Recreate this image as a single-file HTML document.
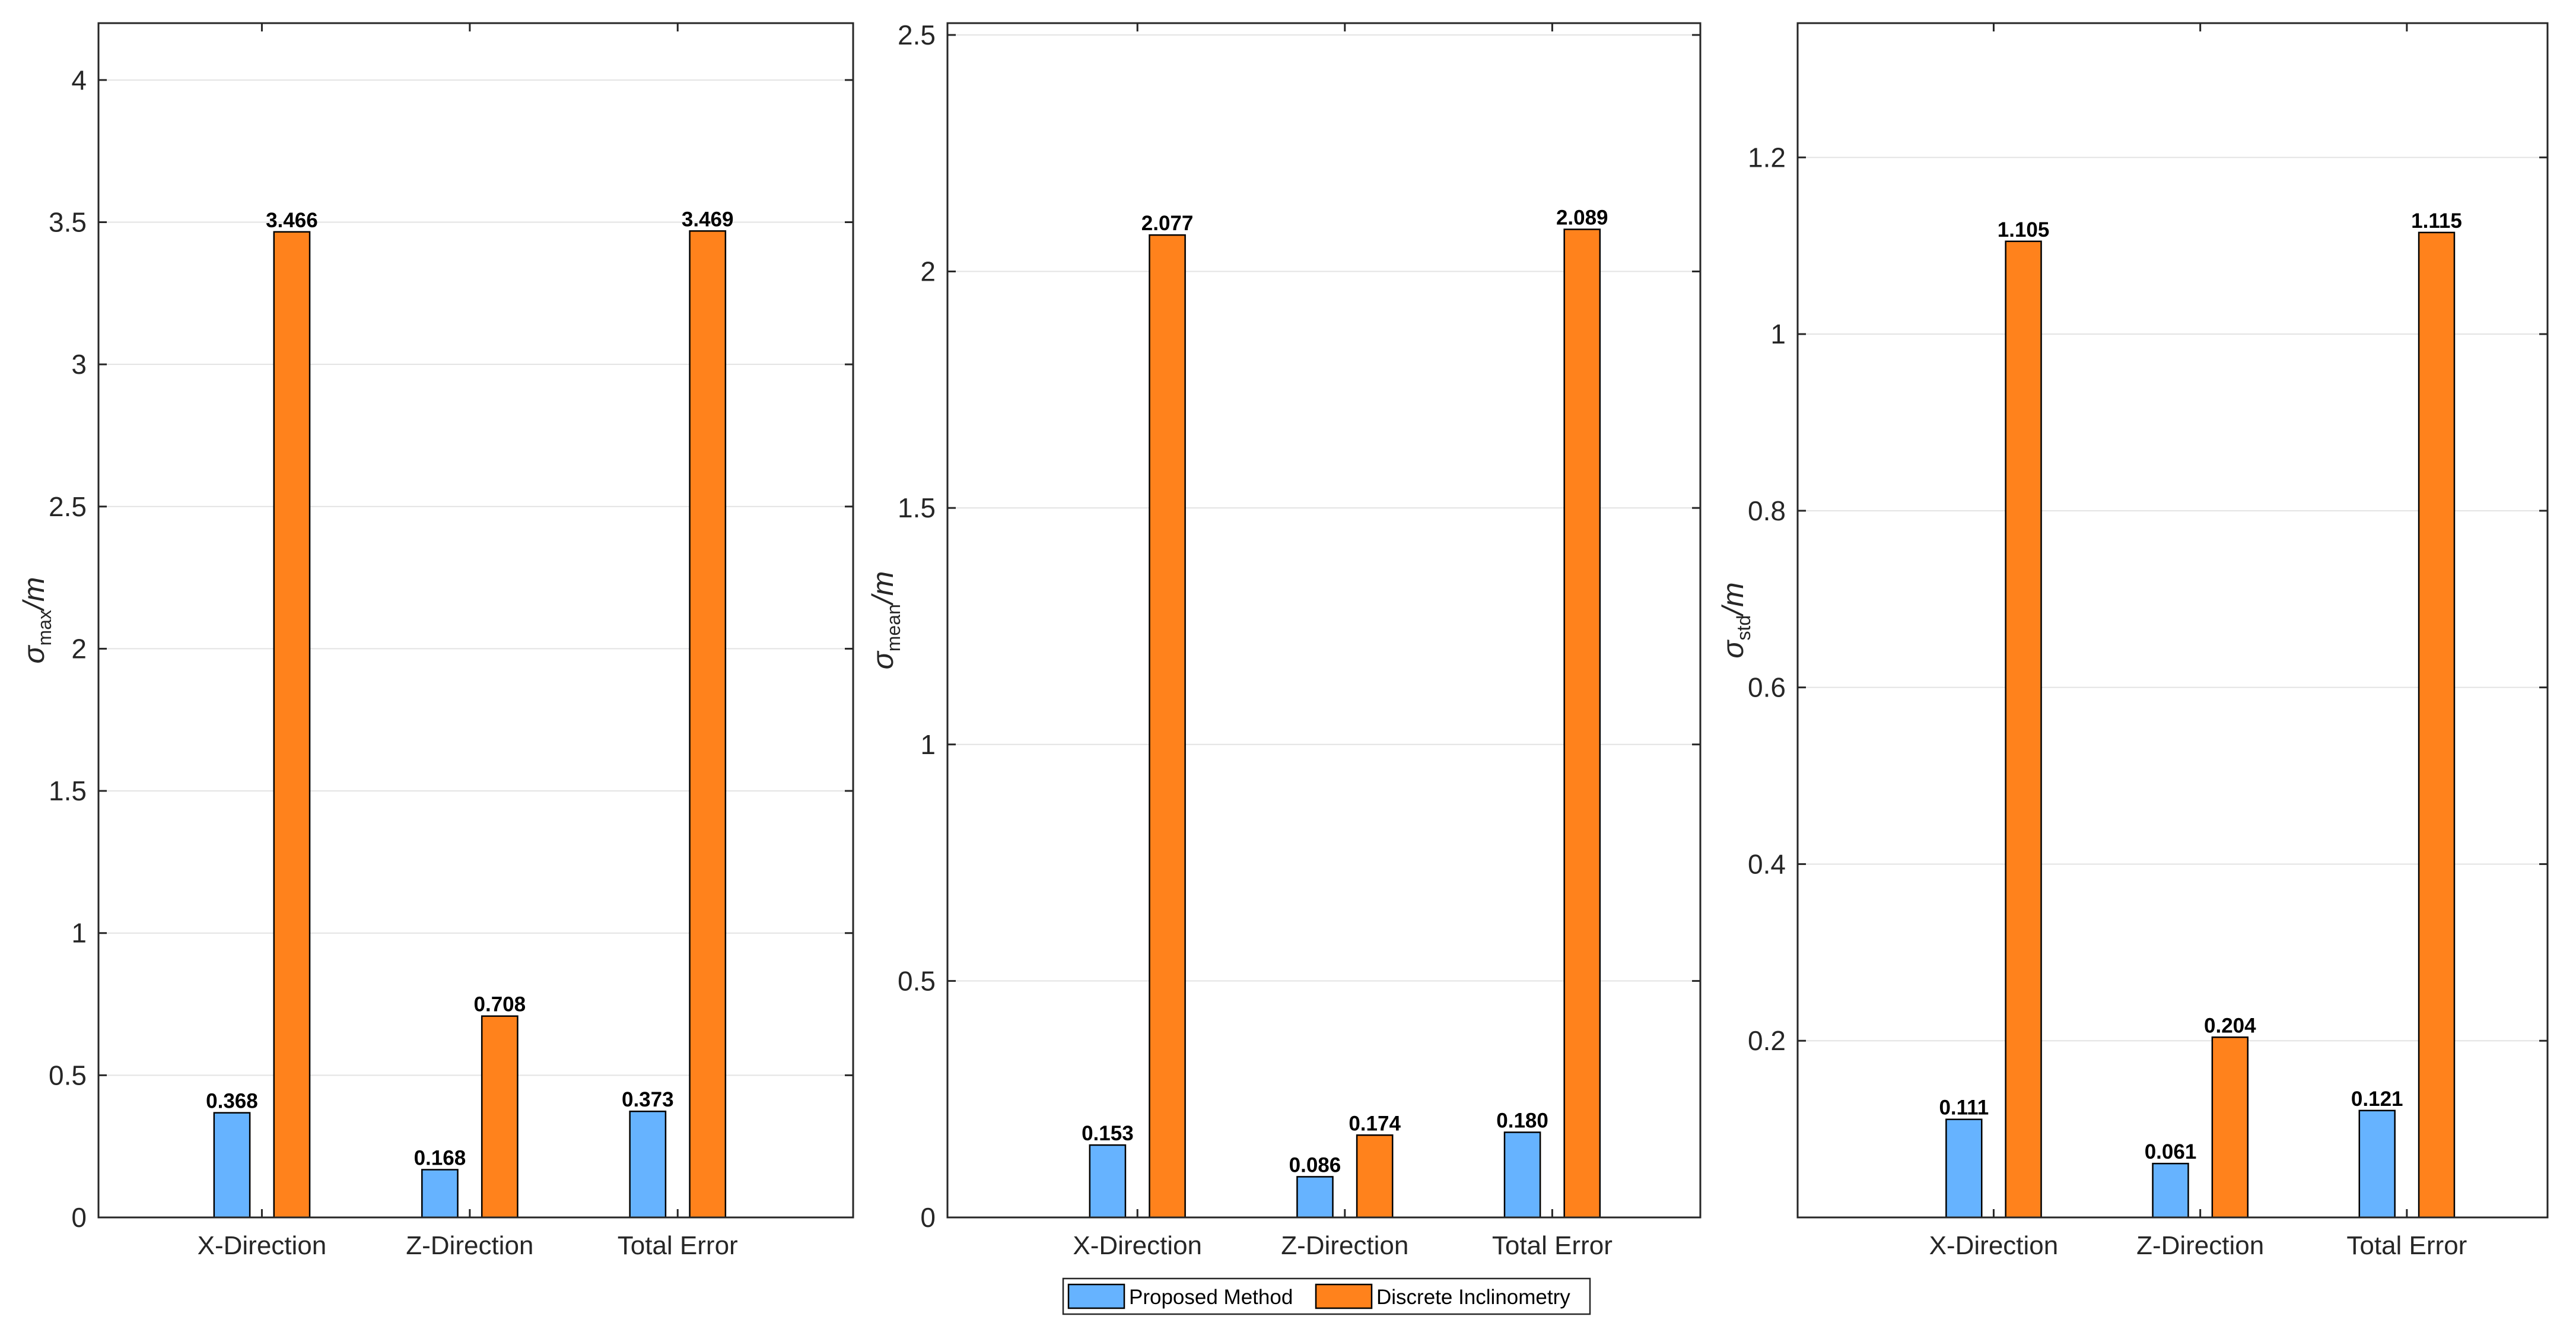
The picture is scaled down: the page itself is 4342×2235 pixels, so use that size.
<!DOCTYPE html>
<html><head><meta charset="utf-8"><style>
html,body{margin:0;padding:0;background:#fff;}
svg{display:block;}
text{font-family:"Liberation Sans",Arial,sans-serif;}
</style></head><body>
<svg id="chart" width="4342" height="2235" viewBox="0 0 4342 2235" xmlns="http://www.w3.org/2000/svg"></svg>
<script>
const categories = ["X-Direction","Z-Direction","Total Error"];
const seriesNames = ["Proposed Method","Discrete Inclinometry"];
const maxProposed = [0.368,0.168,0.373];
const maxDiscrete = [3.466,0.708,3.469];
const meanProposed = [0.153,0.086,0.180];
const meanDiscrete = [2.077,0.174,2.089];
const stdProposed = [0.111,0.061,0.121];
const stdDiscrete = [1.105,0.204,1.115];
const maxTicks = [0,0.5,1,1.5,2,2.5,3,3.5,4];
const meanTicks = [0,0.5,1,1.5,2,2.5];
const stdTicks = [0.2,0.4,0.6,0.8,1,1.2];
const colors = ["#66B3FF","#FF821C"];

const NS="http://www.w3.org/2000/svg";
const svg=document.getElementById('chart');
function mk(tag,attrs,parent){const e=document.createElementNS(NS,tag);for(const k in attrs)e.setAttribute(k,attrs[k]);(parent||svg).appendChild(e);return e;}

const panels=[
 {name:"max",L:166,R:1438,T:39,B:2052,ymax:4.2,xmin:0.214,xmax:3.844,ticks:maxTicks,p:maxProposed,d:maxDiscrete,sub:"max"},
 {name:"mean",L:1597,R:2866,T:39,B:2052,ymax:2.525,xmin:0.084,xmax:3.714,ticks:meanTicks,p:meanProposed,d:meanDiscrete,sub:"mean"},
 {name:"std",L:3030,R:4294,T:39,B:2052,ymax:1.352,xmin:0.051,xmax:3.681,ticks:stdTicks,p:stdProposed,d:stdDiscrete,sub:"std"}
];
const off=0.144,bw=0.172;

panels.forEach(P=>{
  const g=mk('g',{});
  
  
  const xs=v=>P.L+(v-P.xmin)/(P.xmax-P.xmin)*(P.R-P.L);
  const ys=v=>P.B-v/P.ymax*(P.B-P.T);
  P.ticks.forEach(t=>{
    const y=ys(t);
    if(t>0){const gl=mk('line',{x1:P.L,x2:P.R,y1:y,y2:y,stroke:'#e3e3e3','stroke-width':2},g);
      }
    mk('line',{x1:P.L,x2:P.L+14,y1:y,y2:y,stroke:'#262626','stroke-width':3},g);
    mk('line',{x1:P.R,x2:P.R-14,y1:y,y2:y,stroke:'#262626','stroke-width':3},g);
    const tl=mk('text',{x:P.L-20,y:y+16,'text-anchor':'end','font-size':46,fill:'#262626'},g);
    tl.textContent=String(t);
    
  });
  categories.forEach((c,i)=>{
    const cx=xs(i+1);
    [P.p[i],P.d[i]].forEach((v,s)=>{
      const bx=xs(i+1+(s?off:-off)-bw/2), bx2=xs(i+1+(s?off:-off)+bw/2);
      const r=mk('rect',{x:bx,y:ys(v),width:bx2-bx,height:P.B-ys(v),fill:colors[s],stroke:'#000','stroke-width':2.5},g);
      
      
      const vt=mk('text',{x:(bx+bx2)/2,y:ys(v)-8,'text-anchor':'middle','font-size':35,'font-weight':'bold',fill:'#000'},g);
      vt.textContent=v.toFixed(3);
      
    });
    mk('line',{x1:cx,x2:cx,y1:P.B,y2:P.B-14,stroke:'#262626','stroke-width':3},g);
    mk('line',{x1:cx,x2:cx,y1:P.T,y2:P.T+14,stroke:'#262626','stroke-width':3},g);
    const xl=mk('text',{x:cx,y:P.B+62,'text-anchor':'middle','font-size':44,fill:'#262626'},g);
    xl.textContent=c;
    
  });
  const box=mk('rect',{x:P.L,y:P.T,width:P.R-P.L,height:P.B-P.T,fill:'none',stroke:'#262626','stroke-width':3},g);
  
  const yl=mk('text',{transform:`translate(${P.L-92},${(P.T+P.B)/2}) rotate(-90)`,'text-anchor':'middle','font-size':50,fill:'#262626','font-family':'Liberation Serif, serif','font-style':'italic'},g);
  yl.innerHTML='σ<tspan font-size="32" font-style="normal" dy="12">'+P.sub+'</tspan><tspan dy="-12">/m</tspan>';
  
});

const lg=mk('g',{});


mk('rect',{x:1792,y:2155,width:888,height:60,fill:'#fff',stroke:'#262626','stroke-width':2.5},lg);
[[1801,seriesNames[0],colors[0]],[2218,seriesNames[1],colors[1]]].forEach(([x,n,c],k)=>{
  const e=mk('g',{},lg);
  
  
  mk('rect',{x:x,y:2165,width:94,height:40,fill:c,stroke:'#000','stroke-width':2.5},e);
  const t=mk('text',{x:x+102,y:2198,'font-size':35,fill:'#000'},e);
  t.textContent=n;
});
</script>
</body></html>
